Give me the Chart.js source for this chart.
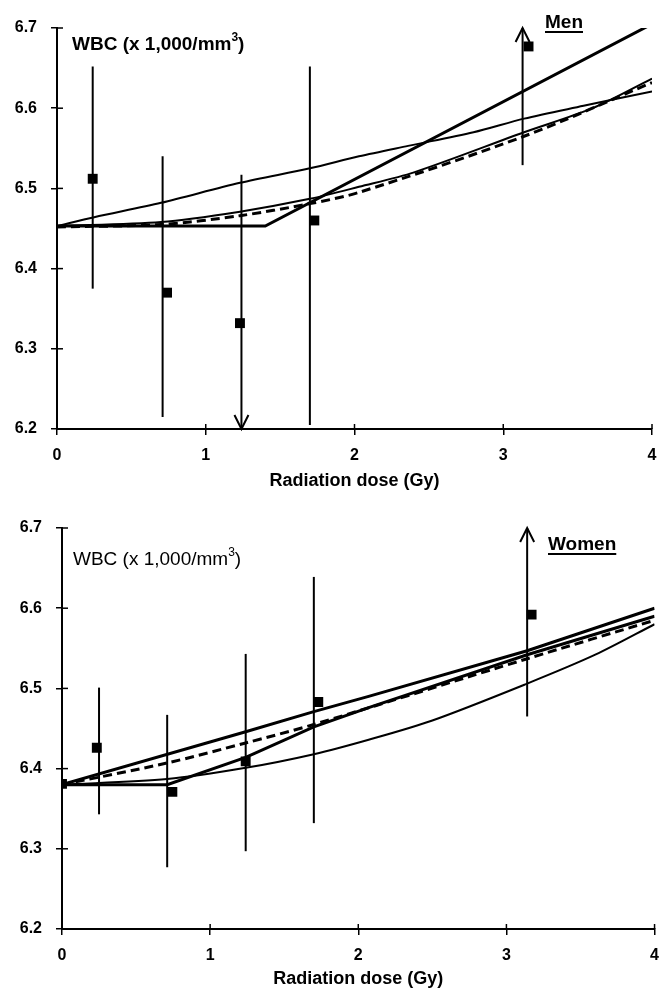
<!DOCTYPE html>
<html>
<head>
<meta charset="utf-8">
<script src="https://cdn.jsdelivr.net/npm/chart.js@4.4.0/dist/chart.umd.min.js"></script>
<style>
  html, body { margin: 0; padding: 0; background: #fff; }
  .panel { position: relative; width: 670px; height: 495px; }
</style>
</head>
<body>
<div class="panel"><canvas id="menChart" width="670" height="495"></canvas></div>
<div class="panel"><canvas id="womenChart" width="670" height="495"></canvas></div>
<script>
// --- data ---
const doseTicks = [0, 1, 2, 3, 4];
const wbcTicks = [6.2, 6.3, 6.4, 6.5, 6.6, 6.7];

// men: observed means and error bars
const menDose = [0.24, 0.74, 1.23, 1.73, 3.17];
const menWbc = [6.512, 6.370, 6.332, 6.460, 6.677];
const menBarDose = [0.24, 0.71, 1.24, 1.70, 3.13];
const menBarLow = [6.375, 6.215, 6.20, 6.205, 6.529];
const menBarHigh = [6.652, 6.540, 6.517, 6.652, 6.70];
const menBarArrow = ['', '', 'down', '', 'up'];

// men: fitted curves
const menSmoothDose = [0, 0.25, 0.7, 1.23, 1.7, 2.03, 2.36, 2.8, 3.14, 3.54, 4];
const menSmoothWbc = [6.453, 6.464, 6.482, 6.507, 6.525, 6.540, 6.553, 6.570, 6.587, 6.603, 6.621];
const menThreshDose = [0, 1.4, 4];
const menThreshWbc = [6.453, 6.453, 6.705];
const menQuadDose = [0, 0.7, 1.23, 1.7, 2.03, 2.4, 3.14, 3.6, 4];
const menQuadWbc = [6.453, 6.458, 6.471, 6.487, 6.502, 6.520, 6.570, 6.600, 6.637];
const menDashDose = [0, 0.7, 1.23, 1.7, 2.03, 3.14, 4];
const menDashWbc = [6.452, 6.455, 6.466, 6.481, 6.495, 6.565, 6.632];

// women: observed means and error bars
const womenDose = [0, 0.235, 0.745, 1.24, 1.73, 3.17];
const womenWbc = [6.381, 6.426, 6.371, 6.409, 6.483, 6.592];
const womenBarDose = [0.25, 0.71, 1.24, 1.70, 3.14];
const womenBarLow = [6.343, 6.277, 6.297, 6.332, 6.465];
const womenBarHigh = [6.501, 6.467, 6.543, 6.639, 6.70];
const womenBarArrow = ['', '', '', '', 'up'];

// women: fitted curves
const womenLinDose = [0, 1.24, 1.7, 2.07, 3.14, 4];
const womenLinWbc = [6.38, 6.446, 6.471, 6.490, 6.547, 6.600];
const womenThreshDose = [0, 0.71, 1.24, 1.7, 2.07, 3.14, 4];
const womenThreshWbc = [6.38, 6.38, 6.414, 6.452, 6.476, 6.542, 6.590];
const womenDashDose = [0, 0.71, 1.24, 1.7, 3.14, 4];
const womenDashWbc = [6.38, 6.407, 6.432, 6.455, 6.537, 6.585];
const womenQuadDose = [0, 0.71, 1.24, 1.7, 2.07, 2.5, 3.14, 3.6, 4];
const womenQuadWbc = [6.38, 6.387, 6.401, 6.418, 6.436, 6.460, 6.506, 6.542, 6.580];

const FONT = '"Liberation Sans", Arial, sans-serif';
const pts = (xs, ys) => xs.map((x, i) => ({ x: x, y: ys[i] }));

// error bars, arrows and inner tick marks
const errorBarPlugin = {
    id: 'errorBars',
    afterDatasetsDraw(chart, args, opts) {
        const { ctx, scales: { x, y } } = chart;
        ctx.save();
        ctx.strokeStyle = '#000';
        ctx.lineWidth = 2;
        opts.dose.forEach((d, i) => {
            const px = x.getPixelForValue(d);
            const top = y.getPixelForValue(opts.high[i]);
            const bot = y.getPixelForValue(opts.low[i]);
            ctx.beginPath();
            ctx.moveTo(px, top);
            ctx.lineTo(px, bot);
            ctx.stroke();
            if (opts.arrow[i] === 'up') {
                ctx.beginPath();
                ctx.moveTo(px - 7, top + 14);
                ctx.lineTo(px, top);
                ctx.lineTo(px + 7, top + 14);
                ctx.stroke();
            } else if (opts.arrow[i] === 'down') {
                ctx.beginPath();
                ctx.moveTo(px - 7, bot - 14);
                ctx.lineTo(px, bot);
                ctx.lineTo(px + 7, bot - 14);
                ctx.stroke();
            }
        });
        // tick marks poke into the plot too
        ctx.lineWidth = 1.5;
        wbcTicks.forEach(v => {
            const py = y.getPixelForValue(v);
            ctx.beginPath();
            ctx.moveTo(x.left, py);
            ctx.lineTo(x.left + 6, py);
            ctx.stroke();
        });
        doseTicks.forEach(v => {
            const px = x.getPixelForValue(v);
            ctx.beginPath();
            ctx.moveTo(px, y.bottom);
            ctx.lineTo(px, y.bottom - 5);
            ctx.stroke();
        });
        ctx.restore();
    }
};

// unit label and the sex label
const panelTextPlugin = {
    id: 'panelText',
    afterDraw(chart, args, opts) {
        const ctx = chart.ctx;
        ctx.save();
        ctx.fillStyle = '#000';
        ctx.textBaseline = 'alphabetic';
        const w = opts.unitBold ? 'bold ' : '';
        ctx.font = w + '19px ' + FONT;
        const main = 'WBC (x 1,000/mm';
        ctx.fillText(main, opts.unitX, opts.unitY);
        let cx = opts.unitX + ctx.measureText(main).width;
        ctx.font = w + '12px ' + FONT;
        ctx.fillText('3', cx, opts.unitY - 9);
        cx += ctx.measureText('3').width;
        ctx.font = w + '19px ' + FONT;
        ctx.fillText(')', cx, opts.unitY);

        ctx.font = 'bold 19px ' + FONT;
        ctx.fillText(opts.sex, opts.sexX, opts.sexY);
        const sw = ctx.measureText(opts.sex).width;
        ctx.fillRect(opts.sexX, opts.sexY + 3, sw, 2);
        ctx.restore();
    }
};

function makeChart(id, lines, points, bars, text, pad, yWidth, xHeight, titlePad) {
    const datasets = lines.map(l => ({
        data: pts(l.dose, l.wbc),
        showLine: true,
        borderColor: '#000',
        borderWidth: l.width,
        borderDash: l.dash ? [9, 5] : [],
        pointRadius: 0,
        tension: l.smooth ? 0.3 : 0,
        fill: false
    }));
    datasets.push({
        data: pts(points.dose, points.wbc),
        pointStyle: 'rect',
        pointRadius: 7,
        backgroundColor: '#000',
        borderWidth: 0
    });
    return new Chart(document.getElementById(id), {
        type: 'scatter',
        data: { datasets: datasets },
        plugins: [errorBarPlugin, panelTextPlugin],
        options: {
            responsive: false,
            animation: false,
            layout: { padding: pad },
            scales: {
                x: {
                    type: 'linear',
                    min: 0, max: 4,
                    afterFit: s => { s.height = xHeight; },
                    afterBuildTicks: s => { s.ticks = doseTicks.map(v => ({ value: v })); },
                    ticks: { color: '#000', padding: 11, font: { family: FONT, size: 16, weight: 'bold' }, callback: v => String(v) },
                    grid: { drawOnChartArea: false, color: '#000', lineWidth: 1.5, tickLength: 6 },
                    border: { color: '#000', width: 2 },
                    title: { display: true, text: 'Radiation dose (Gy)', color: '#000', padding: { top: 0, bottom: titlePad }, font: { family: FONT, size: 18, weight: 'bold' } }
                },
                y: {
                    min: 6.2, max: 6.7,
                    afterFit: s => { s.width = yWidth; },
                    afterBuildTicks: s => { s.ticks = wbcTicks.map(v => ({ value: v })); },
                    ticks: { color: '#000', padding: 14, font: { family: FONT, size: 16, weight: 'bold' }, callback: v => v.toFixed(1) },
                    grid: { drawOnChartArea: false, color: '#000', lineWidth: 1.5, tickLength: 6 },
                    border: { color: '#000', width: 2 }
                }
            },
            plugins: {
                legend: { display: false },
                tooltip: { enabled: false },
                errorBars: bars,
                panelText: text
            }
        }
    });
}

makeChart('menChart',
    [
        { dose: menSmoothDose, wbc: menSmoothWbc, width: 2, smooth: true },
        { dose: menThreshDose, wbc: menThreshWbc, width: 3 },
        { dose: menQuadDose, wbc: menQuadWbc, width: 2, smooth: true },
        { dose: menDashDose, wbc: menDashWbc, width: 3, dash: true, smooth: true }
    ],
    { dose: menDose, wbc: menWbc },
    { dose: menBarDose, low: menBarLow, high: menBarHigh, arrow: menBarArrow },
    { unitBold: true, unitX: 72, unitY: 50, sex: 'Men', sexX: 545, sexY: 28 },
    { top: 28, right: 18, left: 0, bottom: 0 }, 57, 66, 3);

makeChart('womenChart',
    [
        { dose: womenLinDose, wbc: womenLinWbc, width: 3 },
        { dose: womenThreshDose, wbc: womenThreshWbc, width: 3 },
        { dose: womenDashDose, wbc: womenDashWbc, width: 3, dash: true, smooth: true },
        { dose: womenQuadDose, wbc: womenQuadWbc, width: 2, smooth: true }
    ],
    { dose: womenDose, wbc: womenWbc },
    { dose: womenBarDose, low: womenBarLow, high: womenBarHigh, arrow: womenBarArrow },
    { unitBold: false, unitX: 73, unitY: 70, sex: 'Women', sexX: 548, sexY: 55 },
    { top: 33, right: 13, left: 0, bottom: 0 }, 62, 61, 0);
</script>
</body>
</html>
